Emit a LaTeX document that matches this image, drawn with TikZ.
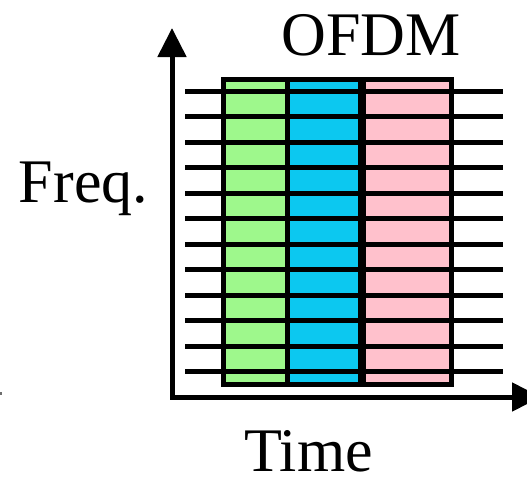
\documentclass[tikz,border=0pt]{standalone}
\usepackage{fontspec}
\setmainfont{Liberation Serif}
\usetikzlibrary{arrows.meta}
\definecolor{cgreen}{RGB}{158,248,140}
\definecolor{cblue}{RGB}{12,200,240}
\definecolor{cpink}{RGB}{255,193,204}
\definecolor{cmark}{RGB}{110,110,110}
\begin{document}
\begin{tikzpicture}[x=1pt,y=-1pt,
  axis/.style={line width=5pt,-{Triangle[length=29pt,width=28pt]}},
  col/.style={draw=black,line width=5pt,minimum height=305pt,inner sep=0pt,outer sep=0pt,anchor=north west},
  subline/.style={line width=5pt},
  lbl/.style={font=\fontsize{62}{62}\selectfont,anchor=base,inner sep=0pt}]
\useasboundingbox (0,0) rectangle (527,477);
% columns
\node[col,fill=cgreen,minimum width=64pt] (green) at (223,79) {};
\node[col,fill=cblue,minimum width=75pt] (blue) at (287,79) {};
\node[col,fill=cpink,minimum width=89pt] (pink) at (362,79) {};
\draw[line width=8pt] (blue.north east) -- (blue.south east);
% subcarrier lines
\foreach \k in {0,...,11}{
  \coordinate (l\k) at (185,{91.5+25.45*\k});
  \coordinate (r\k) at (503,{91.5+25.45*\k});
  \draw[subline] (l\k) -- (r\k);
}
% axes
\coordinate (origin) at (172,397);
\coordinate (ystart) at (172,399.5);
\coordinate (ytop) at (172,28);
\coordinate (xstart) at (170,397);
\coordinate (xend) at (541,397);
\draw[axis] (ystart) -- (ytop);
\draw[axis] (xstart) -- (xend);
% labels
\node[lbl] (ofdm) at (371,55) {OFDM};
\node[lbl] (freq) at (83.5,202) {Freq.};
\node[lbl,text depth=0pt] (time) at (308.5,471) {Time};
% tiny mark
\fill[cmark] (0,392) rectangle (2,395);
\end{tikzpicture}
\end{document}
